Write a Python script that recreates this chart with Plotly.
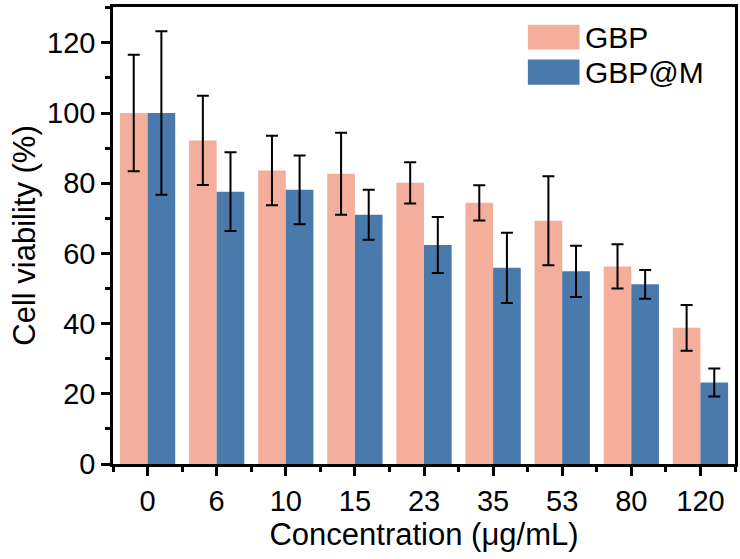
import plotly.graph_objects as go

# Cell viability at each concentration (µg/mL), mean ± SD
concentrations = ["0", "6", "10", "15", "23", "35", "53", "80", "120"]
series_names = ["GBP", "GBP@M"]
gbp_mean = [100.0, 92.2, 83.6, 82.7, 80.1, 74.4, 69.3, 56.3, 38.8]
gbp_sd = [16.6, 12.7, 9.9, 11.7, 5.9, 5.0, 12.7, 6.3, 6.5]
gbpm_mean = [100.0, 77.6, 78.1, 71.0, 62.4, 55.9, 54.9, 51.2, 23.2]
gbpm_sd = [23.3, 11.2, 9.8, 7.1, 8.0, 10.0, 7.3, 4.1, 4.0]
y_ticks = [0, 20, 40, 60, 80, 100, 120]

colors = ["#F3AF9B", "#4A7AAB"]
font_family = "Liberation Sans, Arial, sans-serif"

x_pos = list(range(len(concentrations)))

fig = go.Figure()
for name, mean, sd, color in zip(series_names, [gbp_mean, gbpm_mean],
                                 [gbp_sd, gbpm_sd], colors):
    fig.add_trace(go.Bar(
        x=x_pos, y=mean, name=name,
        marker=dict(color=color, line=dict(width=0)),
        error_y=dict(type="data", array=sd, visible=True,
                     color="black", thickness=2, width=6),
        showlegend=False,
    ))

# Legend drawn as wide swatches with labels in the upper right
legend_x0, legend_x1 = 0.667, 0.750
legend_rows = [(0.907, 0.961), (0.830, 0.885)]
for name, color, (y0, y1) in zip(series_names, colors, legend_rows):
    fig.add_shape(type="rect", xref="paper", yref="paper",
                  x0=legend_x0, x1=legend_x1, y0=y0, y1=y1,
                  fillcolor=color, line=dict(width=0))
    fig.add_annotation(xref="paper", yref="paper", x=0.756, y=(y0 + y1) / 2,
                       text=name, showarrow=False, xanchor="left",
                       yanchor="middle",
                       font=dict(size=30, color="black", family=font_family))

axis_common = dict(
    showline=True, linecolor="black", linewidth=2.5, mirror=True,
    ticks="outside", ticklen=9, tickwidth=2.5, tickcolor="black",
    showgrid=False, zeroline=False,
    tickfont=dict(size=29, color="black", family=font_family),
)

fig.update_layout(
    width=740, height=559,
    margin=dict(l=113, r=2, t=7, b=95),
    paper_bgcolor="white", plot_bgcolor="white",
    barmode="group", bargap=0.2, bargroupgap=0,
    xaxis=dict(
        **axis_common,
        range=[-0.5, len(concentrations) - 0.5],
        tickmode="array", tickvals=x_pos, ticktext=concentrations,
        minor=dict(tickmode="array",
                   tickvals=[i - 0.5 for i in range(len(concentrations) + 1)],
                   ticks="outside", ticklen=5, tickwidth=2.5,
                   tickcolor="black"),
        title=dict(text="Concentration (μg/mL)", standoff=4,
                   font=dict(size=31, color="black", family=font_family)),
    ),
    yaxis=dict(
        **axis_common,
        range=[0, 130.2],
        tickmode="array", tickvals=y_ticks,
        minor=dict(tickmode="linear", tick0=0, dtick=10,
                   ticks="outside", ticklen=5, tickwidth=2.5,
                   tickcolor="black"),
        title=dict(text="Cell viability (%)", standoff=3,
                   font=dict(size=31, color="black", family=font_family)),
    ),
)

fig.write_html("out.html")
